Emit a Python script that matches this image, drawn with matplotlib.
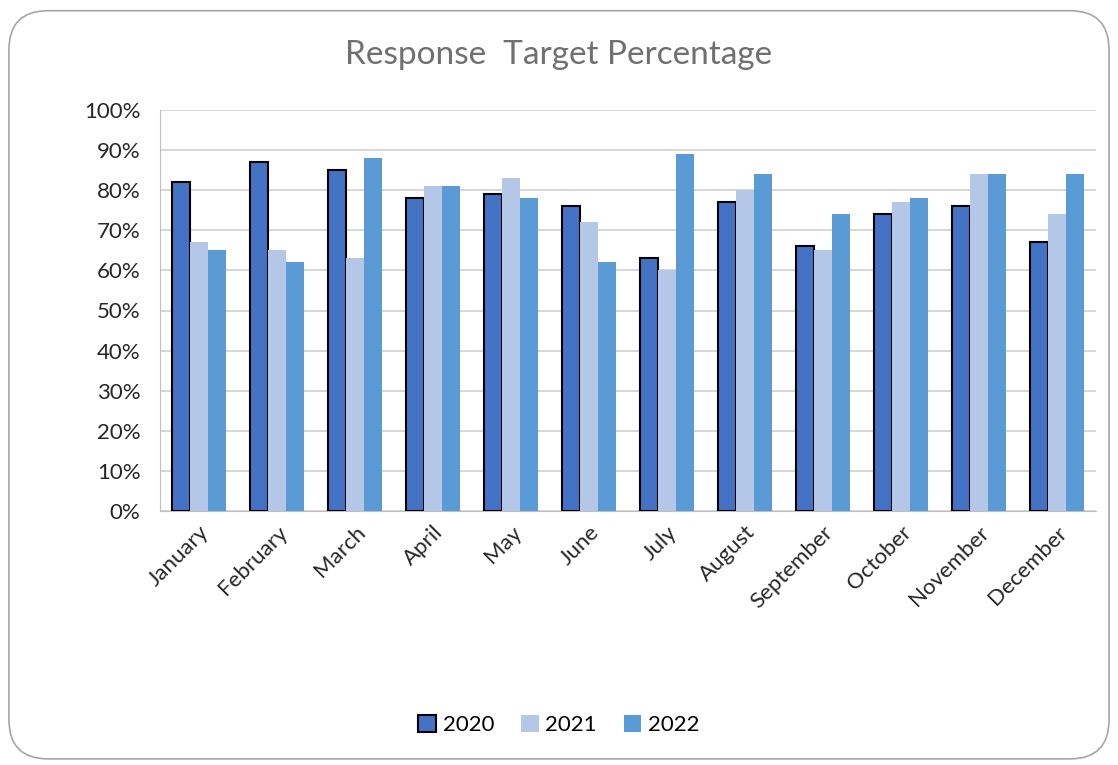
import numpy as np
import matplotlib.pyplot as plt
from matplotlib.patches import FancyBboxPatch
from matplotlib.ticker import PercentFormatter

plt.rcParams['font.family'] = ['Lato', 'DejaVu Sans']

months = ['January', 'February', 'March', 'April', 'May', 'June', 'July',
          'August', 'September', 'October', 'November', 'December']
y2020 = [82, 87, 85, 78, 79, 76, 63, 77, 66, 74, 76, 67]
y2021 = [67, 65, 63, 81, 83, 72, 60, 80, 65, 77, 84, 74]
y2022 = [65, 62, 88, 81, 78, 62, 89, 84, 74, 78, 84, 84]

fig = plt.figure(figsize=(11.18, 7.65), dpi=100)

# rounded frame around the whole chart
frame = FancyBboxPatch((0.008, 0.008), 0.984, 0.978, boxstyle='round,pad=0,rounding_size=0.035',
                       transform=fig.transFigure, facecolor='white', edgecolor='#A6A6A6',
                       linewidth=1.2, mutation_aspect=1118 / 765, zorder=-10)
fig.patches.append(frame)

ax = fig.add_axes([160 / 1118, 1 - 511 / 765, (1096 - 160) / 1118, (511 - 110) / 765])
ax.set_facecolor('none')

x = np.arange(len(months))
w = 0.23
ax.bar(x - w, y2020, w, color='#4472C4', edgecolor='black', linewidth=1.5, label='2020', zorder=3)
ax.bar(x, y2021, w, color='#B4C7E7', label='2021', zorder=3)
ax.bar(x + w, y2022, w, color='#5B9BD5', label='2022', zorder=3)

ax.set_xlim(-0.5, len(months) - 0.5)
ax.set_ylim(0, 100)
ax.set_yticks(range(0, 101, 10))
ax.yaxis.set_major_formatter(PercentFormatter(decimals=0))
ax.grid(axis='y', color='#D0D0D0', linewidth=1.2, zorder=0)
for s in ['top', 'right']:
    ax.spines[s].set_visible(False)
for s in ['left', 'bottom']:
    ax.spines[s].set_color('#BFBFBF')
ax.tick_params(axis='both', length=0, labelsize=16, colors='#262626')
ax.tick_params(axis='y', pad=14)
ax.tick_params(axis='x', pad=8)
ax.set_xticks(x)
ax.set_xticklabels(months, rotation=45, ha='right', rotation_mode='anchor')

fig.text(0.5, 1 - 55 / 765, 'Response  Target Percentage', ha='center', va='center',
         fontsize=24, color='#707070')

fig.legend(loc='center', bbox_to_anchor=(0.5, 1 - 725 / 765), ncol=3, frameon=False,
           fontsize=16, handlelength=0.8, handleheight=0.8, handletextpad=0.3, columnspacing=1.2)

fig.savefig('out.png', dpi=100)
